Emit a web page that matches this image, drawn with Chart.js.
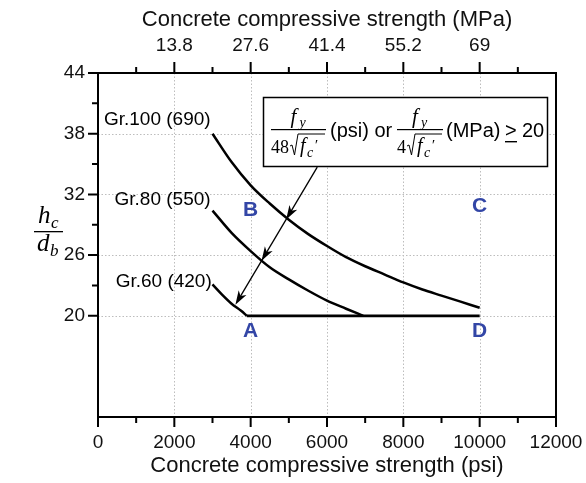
<!DOCTYPE html>
<html>
<head>
<meta charset="utf-8">
<script src="https://cdn.jsdelivr.net/npm/chart.js@4.4.1/dist/chart.umd.min.js"></script>
<style>
  html, body { margin: 0; padding: 0; background: #fff; }
  #wrap { width: 586px; height: 483px; }
</style>
</head>
<body>
<div id="wrap"><canvas id="hcChart" width="586" height="483"></canvas></div>
<script>
// hc/db limit curves, concrete strength in psi
const fcGr100 = [3000, 3500, 4000, 4500, 5000, 5500, 6000, 6500, 7000, 7500, 8000, 8500, 9000, 9500, 10000];
const hcGr100 = [38.0, 35.2, 32.9, 31.1, 29.5, 28.1, 26.9, 25.8, 24.9, 24.1, 23.3, 22.6, 22.0, 21.4, 20.8];
const fcGr80 = [3000, 3500, 4000, 4500, 5000, 5500, 6000, 6500, 6950];
const hcGr80 = [30.4, 28.2, 26.4, 24.8, 23.6, 22.5, 21.5, 20.7, 20.0];
const fcGr60 = [3000, 3250, 3500, 3750, 3900];
const hcGr60 = [23.1, 22.1, 21.2, 20.5, 20.0];
const fcLimit = [3900, 10000];
const hcLimit = [20, 20];

// axes
const psiTicks = [0, 2000, 4000, 6000, 8000, 10000, 12000];
const psiMinor = [1000, 3000, 5000, 7000, 9000, 11000];
const mpaTicks = [2000, 4000, 6000, 8000, 10000];
const mpaLabels = ['13.8', '27.6', '41.4', '55.2', '69'];
const yTicks = [20, 26, 32, 38, 44];
const yMinor = [23, 29, 35, 41];

const gradeLabels = ['Gr.100 (690)', 'Gr.80 (550)', 'Gr.60 (420)'];
const zoneNames = ['A', 'B', 'C', 'D'];

// where the text sits, in axis units
const gradeLabelAt = [[2950, 39.6], [2950, 31.65], [2980, 23.5]];
const zoneAt = [[4000, 18.6], [4000, 30.6], [10000, 31.0], [10000, 18.6]];
const arrowFrom = [5745, 34.7];
const arrowTo = [3600, 21.1];
const arrowHeads = [0.38, 0.68, 1.0];

const SANS = '"Liberation Sans", Arial, sans-serif';
const SERIF = '"Liberation Serif", "Times New Roman", serif';

function pts(xs, ys) {
  return xs.map((x, i) => ({ x: x, y: ys[i] }));
}

function curve(xs, ys, w) {
  return {
    data: pts(xs, ys),
    showLine: true,
    borderColor: '#000',
    borderWidth: w,
    pointRadius: 0,
    cubicInterpolationMode: 'monotone',
    xAxisID: 'x',
    yAxisID: 'y'
  };
}

function txt(ctx, s, x, y, font, align) {
  ctx.font = font;
  ctx.textAlign = align || 'left';
  ctx.textBaseline = 'alphabetic';
  ctx.fillText(s, x, y);
}

function radical(ctx, x, yb, w) {
  ctx.beginPath();
  ctx.moveTo(x, yb - 7);
  ctx.lineTo(x + 2, yb - 8);
  ctx.lineTo(x + 4.5, yb + 2);
  ctx.lineTo(x + 8, yb - 19);
  ctx.lineTo(x + 8 + w, yb - 19);
  ctx.lineWidth = 1;
  ctx.stroke();
}

// f_y over lead·√f_c'
function fraction(ctx, x0, x1, lead, leadW) {
  const mid = (x0 + x1) / 2;
  txt(ctx, 'f', mid - 8, 123, 'italic 21px ' + SERIF);
  txt(ctx, 'y', mid + 1, 127, 'italic 14px ' + SERIF);
  ctx.fillRect(x0, 129, x1 - x0, 1.2);
  txt(ctx, lead, x0, 153, '18px ' + SERIF);
  const rx = x0 + leadW + 1;
  radical(ctx, rx, 153, x1 - rx - 9);
  txt(ctx, 'f', rx + 10, 152, 'italic 20px ' + SERIF);
  txt(ctx, 'c', rx + 17, 157, 'italic 14px ' + SERIF);
  txt(ctx, '\u2032', rx + 24, 150, 'italic 15px ' + SERIF);
}

function arrowHead(ctx, x, y, ang) {
  const len = 14, half = 4.5;
  ctx.save();
  ctx.translate(x, y);
  ctx.rotate(ang);
  ctx.beginPath();
  ctx.moveTo(0, 0);
  ctx.lineTo(-len, -half);
  ctx.lineTo(-len + 4, 0);
  ctx.lineTo(-len, half);
  ctx.closePath();
  ctx.fill();
  ctx.restore();
}

const frame = {
  id: 'frame',
  beforeDatasetsDraw(chart) {
    const { ctx, chartArea: a, scales } = chart;
    ctx.save();
    ctx.strokeStyle = '#bdbdbd';
    ctx.lineWidth = 1;
    ctx.setLineDash([1.5, 2]);
    ctx.beginPath();
    psiTicks.slice(1, -1).forEach(v => {
      const x = Math.round(scales.x.getPixelForValue(v)) + 0.5;
      ctx.moveTo(x, a.top);
      ctx.lineTo(x, a.bottom);
    });
    yTicks.slice(0, -1).forEach(v => {
      const y = Math.round(scales.y.getPixelForValue(v)) + 0.5;
      ctx.moveTo(a.left, y);
      ctx.lineTo(a.right, y);
    });
    ctx.stroke();
    ctx.restore();
  },
  afterDatasetsDraw(chart) {
    const { ctx, chartArea: a, scales } = chart;
    const sx = scales.x, sy = scales.y;
    ctx.save();
    ctx.fillStyle = '#000';
    ctx.strokeStyle = '#000';

    // plot box and tick marks
    ctx.lineWidth = 2;
    ctx.strokeRect(a.left, a.top, a.right - a.left, a.bottom - a.top);
    ctx.beginPath();
    psiTicks.forEach(v => {
      const x = sx.getPixelForValue(v);
      ctx.moveTo(x, a.bottom); ctx.lineTo(x, a.bottom + 10);
    });
    psiMinor.forEach(v => {
      const x = sx.getPixelForValue(v);
      ctx.moveTo(x, a.bottom); ctx.lineTo(x, a.bottom + 6);
      ctx.moveTo(x, a.top); ctx.lineTo(x, a.top - 6);
    });
    mpaTicks.forEach(v => {
      const x = sx.getPixelForValue(v);
      ctx.moveTo(x, a.top); ctx.lineTo(x, a.top - 11);
    });
    yTicks.forEach(v => {
      const y = sy.getPixelForValue(v);
      ctx.moveTo(a.left, y); ctx.lineTo(a.left - 10, y);
    });
    yMinor.forEach(v => {
      const y = sy.getPixelForValue(v);
      ctx.moveTo(a.left, y); ctx.lineTo(a.left - 6, y);
    });
    ctx.stroke();

    // axis titles
    const cx = (a.left + a.right) / 2;
    ctx.fillStyle = '#111';
    txt(ctx, 'Concrete compressive strength (psi)', cx, 472, '22px ' + SANS, 'center');
    txt(ctx, 'Concrete compressive strength (MPa)', cx, 26, '22px ' + SANS, 'center');

    // hc / db
    ctx.fillStyle = '#000';
    txt(ctx, 'h', 38, 223, 'italic 25px ' + SERIF);
    txt(ctx, 'c', 51, 228, 'italic 17px ' + SERIF);
    ctx.fillRect(34, 231, 29, 1.3);
    txt(ctx, 'd', 37, 251, 'italic 25px ' + SERIF);
    txt(ctx, 'b', 50, 256, 'italic 17px ' + SERIF);

    // grade labels
    gradeLabels.forEach((s, i) => {
      const p = gradeLabelAt[i];
      txt(ctx, s, sx.getPixelForValue(p[0]), sy.getPixelForValue(p[1]) + 7, '19px ' + SANS, 'right');
    });

    // zone letters
    ctx.fillStyle = '#3346a6';
    zoneNames.forEach((s, i) => {
      const p = zoneAt[i];
      txt(ctx, s, sx.getPixelForValue(p[0]), sy.getPixelForValue(p[1]) + 7.5, 'bold 21px ' + SANS, 'center');
    });

    // arrow through the three curves
    ctx.fillStyle = '#000';
    const x0 = sx.getPixelForValue(arrowFrom[0]), y0 = sy.getPixelForValue(arrowFrom[1]);
    const x1 = sx.getPixelForValue(arrowTo[0]), y1 = sy.getPixelForValue(arrowTo[1]);
    ctx.lineWidth = 1.3;
    ctx.beginPath();
    ctx.moveTo(x0, y0);
    ctx.lineTo(x1 + (x0 - x1) * 0.03, y1 + (y0 - y1) * 0.03);
    ctx.stroke();
    const ang = Math.atan2(y1 - y0, x1 - x0);
    arrowHeads.forEach(t => arrowHead(ctx, x0 + (x1 - x0) * t, y0 + (y1 - y0) * t, ang));

    // formula box
    ctx.fillStyle = '#fff';
    ctx.fillRect(263, 97, 285, 70);
    ctx.lineWidth = 1.5;
    ctx.strokeRect(263.5, 97.5, 284, 69);
    ctx.fillStyle = '#000';
    fraction(ctx, 271, 326, '48', 18);
    txt(ctx, '(psi) or', 330, 137, '20px ' + SANS);
    fraction(ctx, 397, 443, '4', 9);
    txt(ctx, '(MPa)', 446, 137, '20px ' + SANS);
    txt(ctx, '>', 505, 137, '20px ' + SANS);
    ctx.fillRect(505, 141, 12, 1.4);
    txt(ctx, '20', 522, 137, '20px ' + SANS);
    ctx.restore();
  }
};

function noPad(s) {
  s.paddingLeft = 0;
  s.paddingRight = 0;
  s.paddingTop = 0;
  s.paddingBottom = 0;
}

new Chart(document.getElementById('hcChart'), {
  type: 'scatter',
  data: {
    datasets: [
      curve(fcGr100, hcGr100, 2.5),
      curve(fcGr80, hcGr80, 2.5),
      curve(fcGr60, hcGr60, 2.5),
      curve(fcLimit, hcLimit, 2.8)
    ]
  },
  options: {
    responsive: false,
    animation: false,
    layout: { padding: { left: 0, right: 30, top: 0, bottom: 0 } },
    plugins: { legend: { display: false }, tooltip: { enabled: false } },
    scales: {
      x: {
        type: 'linear',
        position: 'bottom',
        min: 0,
        max: 12000,
        afterBuildTicks: s => { s.ticks = psiTicks.map(v => ({ value: v })); },
        afterFit: s => { s.height = 66; noPad(s); },
        grid: { display: false, drawTicks: false },
        border: { display: false },
        ticks: {
          autoSkip: false,
          maxRotation: 0,
          padding: 14,
          color: '#111',
          font: { family: SANS, size: 19 },
          callback: v => String(v)
        }
      },
      x2: {
        type: 'linear',
        position: 'top',
        min: 0,
        max: 12000,
        afterBuildTicks: s => { s.ticks = mpaTicks.map(v => ({ value: v })); },
        afterFit: s => { s.height = 73; noPad(s); },
        grid: { display: false, drawTicks: false },
        border: { display: false },
        ticks: {
          autoSkip: false,
          maxRotation: 0,
          padding: 16,
          color: '#111',
          font: { family: SANS, size: 19 },
          callback: (v, i) => mpaLabels[i]
        }
      },
      y: {
        type: 'linear',
        min: 10,
        max: 44,
        afterBuildTicks: s => { s.ticks = yTicks.map(v => ({ value: v })); },
        afterFit: s => { s.width = 98; noPad(s); },
        grid: { display: false, drawTicks: false },
        border: { display: false },
        ticks: {
          padding: 13,
          color: '#111',
          font: { family: SANS, size: 19 }
        }
      }
    }
  },
  plugins: [frame]
});
</script>
</body>
</html>
